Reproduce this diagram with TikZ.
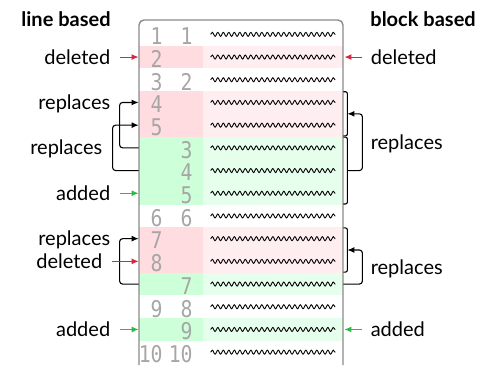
\documentclass[tikz,border=0pt]{standalone}
\usepackage{fontspec}
\setmainfont{Lato}
\newfontfamily\numfont[FakeStretch=0.86]{DejaVu Sans Mono}
\usetikzlibrary{arrows.meta,positioning,calc,decorations.pathmorphing}
\definecolor{delnumcol}{HTML}{FFDCE0}
\definecolor{dellinecol}{HTML}{FFEEF0}
\definecolor{addnumcol}{HTML}{CDFFD8}
\definecolor{addlinecol}{HTML}{E6FFED}
\definecolor{numgray}{HTML}{A6A6A6}
\definecolor{framegray}{HTML}{8A8A8A}
\definecolor{delred}{HTML}{D7263D}
\definecolor{addgreen}{HTML}{2DB84B}

\begin{document}
\begin{tikzpicture}[
  x=0.5pt, y=-0.5pt,
  font=\fontsize{10}{12}\selectfont,
  cell/.style = {rectangle, inner sep=0pt, minimum height=11.35pt},
  numcell/.style = {cell, minimum width=32pt},
  txtcell/.style = {cell, minimum width=70pt},
  same-num/.style = {}, same-txt/.style = {},
  del-num/.style = {fill=delnumcol}, del-txt/.style = {fill=dellinecol},
  add-num/.style = {fill=addnumcol}, add-txt/.style = {fill=addlinecol},
  lineno/.style = {inner sep=0pt, anchor=base east, text=numgray,
                   font=\numfont\fontsize{11.5}{12}\selectfont},
  wave/.style = {decorate, decoration={snake, amplitude=1pt, segment length=2.75pt},
                 line width=0.45pt},
  lab/.style = {inner sep=0pt, text height=7pt, text depth=0pt},
  head/.style = {lab, font=\fontsize{10}{12}\selectfont\bfseries},
  link/.style = {-{Latex[length=3.5pt,width=3pt]}, line width=0.55pt, rounded corners=1.5pt},
  dellink/.style = {link, delred},
  addlink/.style = {link, addgreen},
  brk/.style = {line width=0.55pt, rounded corners=1pt}
]
\useasboundingbox (0,0) rectangle (486,365);

% Rows of the diff
\foreach \i/\old/\new/\kind in {1/1/1/same, 2/2//del, 3/3/2/same, 4/4//del, 5/5//del,
    6//3/add, 7//4/add, 8//5/add, 9/6/6/same, 10/7//del, 11/8//del, 12//7/add,
    13/9/8/same, 14//9/add, 15/10/10/same}{
  \pgfmathsetmacro{\c}{23+(\i-0.5)*22.7}
  \node[numcell, \kind-num] (n\i) at (171,\c) {};
  \node[txtcell, \kind-txt] (t\i) at (273,\c) {};
  \node[lineno] (o\i) at (163,\c+10.3) {\old};
  \node[lineno] (w\i) at (193,\c+10.3) {\new};
  \draw[wave] ([xshift=4pt]t\i.west) -- ([xshift=-4pt]t\i.east);
}

% Frame
\draw[framegray, line width=0.7pt, rounded corners=2.5pt]
  (139,365) -- (139,20) -- (343,20) -- (343,365);

% Headers
\node[head, anchor=east] (lhead) at (111,19.7) {line based};
\node[head, anchor=west] (rhead) at (370,19.7) {block based};

% Line based
\node[lab, left=14pt of n2] (ldel1) {deleted};
\node[lab, left=14pt of n4] (lrep1) {replaces};
\node[lab, left=18pt of n6] (lrep2) {replaces};
\node[lab, left=14pt of n8] (ladd1) {added};
\node[lab, left=14pt of n10] (lrep3) {replaces};
\node[lab, left=18pt of n11] (ldel2) {deleted};
\node[lab, left=14pt of n14] (ladd2) {added};

\draw[dellink, shorten <=4.5pt] (ldel1) -- (n2.west);
\draw[link] (n6.west) -- ++(-19,0) |- (n4.west);
\draw[link] (n7.west) -- ++(-26,0) |- (n5.west);
\draw[addlink, shorten <=4.5pt] (ladd1) -- (n8.west);
\draw[link] (n12.west) -- ++(-19,0) |- (n10.west);
\draw[dellink, shorten <=4.5pt] (ldel2) -- (n11.west);
\draw[addlink, shorten <=4.5pt] (ladd2) -- (n14.west);

% Block based
\coordinate (b1) at ($(t4.north east)!0.5!(t5.south east)+(4,0)$);
\coordinate (b2) at ($(t6.north east)!0.5!(t8.south east)+(4,0)$);
\coordinate (b3) at ($(t10.north east)!0.5!(t11.south east)+(4,0)$);

\draw[brk] ([yshift=-0.5pt]t4.north east) -- ++(4,0) |- ([yshift=0.5pt]t5.south east);
\draw[brk] ([yshift=-0.5pt]t6.north east) -- ++(4,0) |- ([yshift=0.5pt]t8.south east);
\draw[brk] ([yshift=-0.5pt]t10.north east) -- ++(4,0) |- ([yshift=0.5pt]t11.south east);

\node[lab, right=13.5pt of t2] (rdel) {deleted};
\node[lab, right=11.5pt of {$(b1)!0.5!(b2)$}] (rrep1) {replaces};
\node[lab, right=12.5pt of {$(b3)!0.5!(t12.east)$}] (rrep2) {replaces};
\node[lab, right=13.5pt of t14] (radd) {added};

\draw[dellink, shorten <=4pt, shorten >=0.5pt] (rdel) -- (t2.east);
\draw[link] (b2) -- ++(15,0) |- (b1);
\draw[link] (t12.east) -- ++(19,0) |- (b3);
\draw[addlink, shorten <=4pt, shorten >=0.5pt] (radd) -- (t14.east);

\end{tikzpicture}
\end{document}
